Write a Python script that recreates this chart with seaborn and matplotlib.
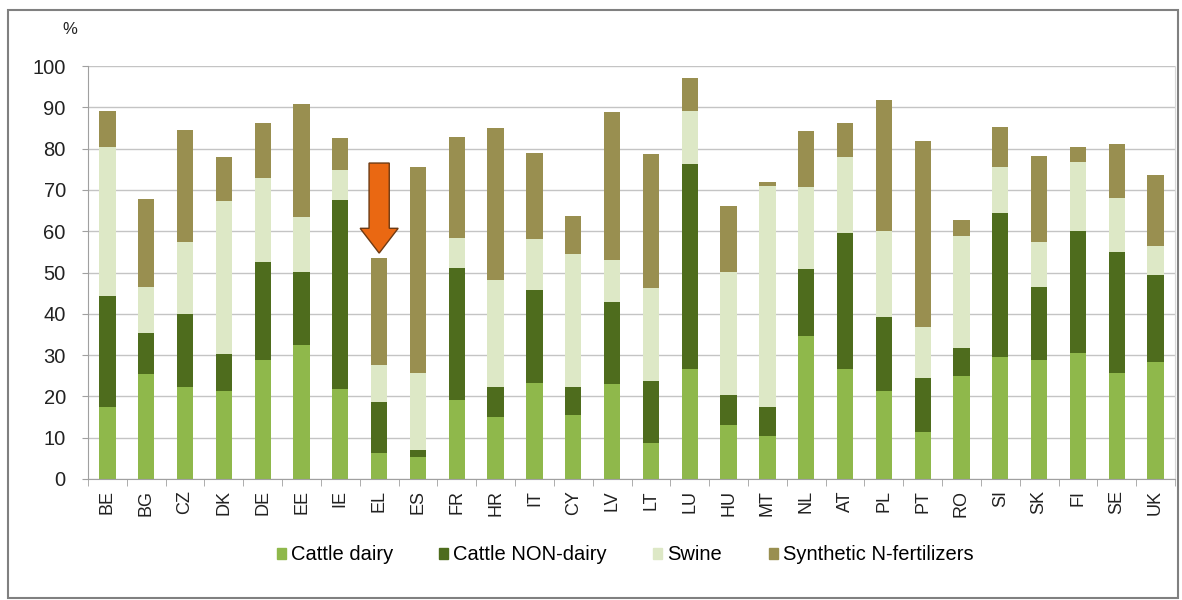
import numpy as np
import pandas as pd
import matplotlib
matplotlib.use("Agg")
import matplotlib.pyplot as plt
from matplotlib.patches import Rectangle
import seaborn as sns

countries = ["BE", "BG", "CZ", "DK", "DE", "EE", "IE", "EL", "ES", "FR", "HR", "IT", "CY", "LV",
             "LT", "LU", "HU", "MT", "NL", "AT", "PL", "PT", "RO", "SI", "SK", "FI", "SE", "UK"]

# segment values (%)
cattle_dairy = [17.5, 25.4, 22.2, 21.4, 28.8, 32.4, 21.8, 6.4, 5.3, 19.2, 15.0, 23.3, 15.5, 23.0,
                8.8, 26.6, 13.0, 10.3, 34.6, 26.6, 21.2, 11.3, 25.0, 29.5, 28.7, 30.5, 25.6, 28.4]
cattle_non_dairy = [26.8, 9.9, 17.8, 8.8, 23.8, 17.8, 45.8, 12.3, 1.8, 31.8, 7.3, 22.4, 6.8, 19.9,
                    15.0, 49.7, 7.3, 7.1, 16.2, 33.0, 18.0, 13.1, 6.8, 35.0, 17.8, 29.5, 29.4, 20.9]
swine = [36.0, 11.1, 17.5, 37.2, 20.3, 13.3, 7.2, 8.9, 18.5, 7.3, 25.9, 12.3, 32.3, 10.1,
         22.4, 12.7, 29.8, 53.5, 19.9, 18.4, 20.8, 12.5, 27.1, 11.0, 10.8, 16.8, 13.0, 7.2]
synthetic_n = [8.8, 21.3, 27.0, 10.5, 13.2, 27.3, 7.7, 25.8, 50.0, 24.4, 36.9, 21.0, 9.2, 35.9,
               32.5, 8.2, 16.0, 0.9, 13.6, 8.3, 31.8, 45.0, 3.8, 9.8, 20.8, 3.7, 13.1, 17.1]

series = ["Cattle dairy", "Cattle NON-dairy", "Swine", "Synthetic N-fertilizers"]
colors = ["#8fb84b", "#4e6c1d", "#dde8c6", "#998f50"]

seg = np.array([cattle_dairy, cattle_non_dairy, swine, synthetic_n])
cum = np.cumsum(seg, axis=0)

plt.rcParams['font.family'] = ['Liberation Sans', 'DejaVu Sans']

W, H = 1182, 600
fig = plt.figure(figsize=(W / 100, H / 100), dpi=100)
ax = fig.add_axes([88 / W, 1 - 479 / H, (1175 - 88) / W, (479 - 66) / H])

# draw tallest (cumulative) layer first, then cover with the lower ones
for k in range(3, -1, -1):
    df = pd.DataFrame({"country": countries, "value": cum[k]})
    sns.barplot(data=df, x="country", y="value", color=colors[k], saturation=1,
                width=0.42, errorbar=None, ax=ax, zorder=2)

ax.set_ylim(0, 100)
ax.set_xlim(-0.5, len(countries) - 0.5)
ax.set_yticks(np.arange(0, 101, 10))
ax.set_xlabel("")
ax.set_ylabel("")
ax.grid(axis="y", color="#c4c4c4", linewidth=1, zorder=0)
ax.set_axisbelow(True)

ax.spines["top"].set_visible(False)
ax.spines["left"].set_color("#a0a0a0")
ax.spines["bottom"].set_color("#a0a0a0")
ax.spines["right"].set_color("#d8d8d8")

ax.tick_params(axis="y", labelsize=14.5, colors="#a0a0a0", labelcolor="#222222", length=4, pad=12)
ax.tick_params(axis="x", labelsize=13, labelcolor="#222222", length=0, pad=8, labelrotation=90)
ax.set_xticks(np.arange(-0.5, len(countries), 1), minor=True)
ax.tick_params(axis="x", which="minor", length=5, color="#a0a0a0")

# arrow pointing at EL
ax.arrow(7, 76.5, 0, -21.8, width=0.52, head_width=0.98, head_length=6.0,
         length_includes_head=True, fc="#ea6812", ec="#6e3a12", lw=1, zorder=5)

fig.text(70 / W, 1 - 30 / H, "%", fontsize=12, color="#222222", ha="center", va="center")

handles = [Rectangle((0, 0), 1, 1, color=c) for c in colors]
fig.legend(handles, series, loc="center", bbox_to_anchor=(625 / W, 1 - 555 / H), ncol=4,
           frameon=False, fontsize=14.5, handlelength=0.45, handleheight=0.45,
           handletextpad=0.25, columnspacing=2.3)

# outer frame
fig.patches.append(Rectangle((8 / W, 2 / H), (1178 - 8) / W, (590 - 2) / H,
                             transform=fig.transFigure, fill=False, ec="#808080", lw=1.5))

fig.savefig("out.png", dpi=100)
